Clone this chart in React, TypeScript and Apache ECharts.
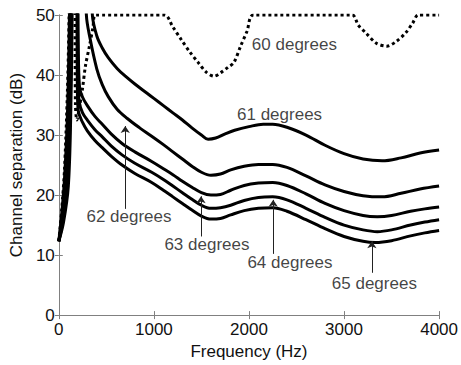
import React, { useEffect, useRef } from "react";
import * as echarts from "echarts";

const xTicks = [0, 1000, 2000, 3000, 4000];
const yTicks = [0, 10, 20, 30, 40, 50];

// [frequency Hz, channel separation dB]
const deg60: number[][] = [
  [0, 12.3], [30, 17.5], [59, 24], [90, 37], [108, 50], [115, 65], [160, 65], [175, 35], [190, 32.5],
  [215, 34.5], [249, 37.7], [280, 41.5], [322, 44.8], [360, 48], [385, 50], [1112, 50], [1200, 48],
  [1288, 45.9], [1380, 43.8], [1465, 42.1], [1550, 40.5], [1634, 39.8], [1704, 40.4], [1780, 41.3],
  [1842, 42.1], [1912, 44.8], [1980, 47.3], [2047, 50], [3086, 50], [3150, 48.3], [3231, 47],
  [3340, 45.3], [3450, 44.8], [3550, 45.6], [3647, 47], [3720, 48.6], [3782, 50], [4000, 50],
];
const deg61: number[][] = [
  [0, 12.3], [30, 16.8], [59, 22.5], [90, 33], [112, 50], [125, 70], [320, 70], [353, 50], [400, 46.5],
  [457, 44.5], [520, 42.9], [613, 41.1], [700, 39.8], [800, 38.5], [925, 37], [1000, 36.1], [1100, 34.9],
  [1200, 33.7], [1300, 32.5], [1400, 31.2], [1500, 30], [1570, 29.3], [1650, 29.5], [1750, 30.2],
  [1850, 30.8], [2000, 31.4], [2150, 31.8], [2250, 31.8], [2400, 31.3], [2600, 30], [2800, 28.3],
  [3000, 26.9], [3200, 26], [3400, 25.7], [3600, 26.2], [3800, 27], [4000, 27.5],
];
const deg62: number[][] = [
  [0, 12.3], [35, 16.5], [70, 22], [100, 32], [118, 50], [128, 70], [260, 70], [290, 50], [330, 46],
  [400, 41], [457, 38.4], [520, 36.4], [613, 34.3], [717, 32.8], [850, 31.2], [977, 29.8], [1100, 28.4],
  [1200, 27.2], [1300, 26], [1400, 24.8], [1500, 23.8], [1600, 23.3], [1700, 23.5], [1808, 24.2],
  [1950, 24.8], [2100, 25.1], [2250, 25.1], [2400, 24.6], [2600, 23.2], [2800, 21.7], [3000, 20.6],
  [3200, 19.9], [3400, 19.7], [3600, 20.3], [3800, 21], [4000, 21.5],
];
const deg63: number[][] = [
  [0, 12.3], [40, 16], [80, 22.5], [110, 33], [125, 50], [135, 70], [190, 70], [205, 45], [218, 38],
  [250, 36.3], [300, 34.9], [380, 33.1], [457, 31.8], [550, 30.2], [665, 28.6], [800, 27.2], [977, 25.6],
  [1100, 24.4], [1200, 23.4], [1300, 22.3], [1400, 21.3], [1500, 20.4], [1600, 20], [1700, 20.1],
  [1808, 20.8], [1950, 21.6], [2100, 22], [2250, 22.1], [2400, 21.6], [2600, 20.2], [2800, 18.6],
  [3000, 17.4], [3200, 16.6], [3350, 16.4], [3500, 16.6], [3700, 17.3], [3850, 17.7], [4000, 18],
];
const deg64: number[][] = [
  [0, 12.3], [45, 15.8], [90, 22], [118, 33], [132, 50], [140, 70], [185, 70], [200, 40], [215, 35.5],
  [250, 33.7], [300, 32.5], [380, 30.9], [457, 29.7], [550, 28.2], [665, 26.7], [800, 25.3], [977, 23.8],
  [1100, 22.6], [1200, 21.5], [1300, 20.4], [1400, 19.3], [1500, 18.3], [1600, 17.8], [1700, 17.9],
  [1808, 18.3], [1950, 19.1], [2100, 19.6], [2250, 19.7], [2400, 19.2], [2600, 17.8], [2800, 16.3],
  [3000, 15], [3200, 14.2], [3350, 13.9], [3500, 14.2], [3700, 15], [3850, 15.5], [4000, 15.9],
];
const deg65: number[][] = [
  [0, 12.3], [50, 15.5], [100, 21.5], [125, 33], [140, 50], [148, 70], [180, 70], [195, 38], [205, 34],
  [250, 32.1], [300, 30.7], [380, 29.1], [457, 27.9], [550, 26.5], [665, 25], [800, 23.6], [977, 22.1],
  [1100, 20.8], [1200, 19.7], [1300, 18.6], [1400, 17.5], [1500, 16.5], [1600, 16], [1700, 16.1],
  [1808, 16.7], [1950, 17.4], [2100, 17.8], [2250, 17.9], [2400, 17.3], [2600, 15.9], [2800, 14.4],
  [3000, 13.1], [3200, 12.3], [3330, 12.1], [3500, 12.4], [3700, 13.2], [3850, 13.7], [4000, 14.1],
];

const labelTexts = ["60 degrees", "61 degrees", "62 degrees", "63 degrees", "64 degrees", "65 degrees"];
const labelFreq = [2478, 2322, 738, 1558, 2431, 3319];
const labelDb = [45.1, 33.4, 16.4, 11.8, 8.7, 5.2];

// arrows: [freq, fromDb, toDb]
const arrowFreq = [699, 1496, 2255, 3293];
const arrowFrom = [17.7, 13.1, 10.2, 7.05];
const arrowTo = [31.5, 19.8, 19.2, 12.3];

const FONT = "'Liberation Sans', Arial, sans-serif";
const AXIS_GREY = "#808080";
const TEXT = "#111";

export default function App() {
  const ref = useRef<HTMLDivElement>(null);
  useEffect(() => {
    document.body.style.margin = "0";
    if (!ref.current) return;
    const chart = echarts.init(ref.current, undefined, { renderer: "svg" });
    const solid = (data: number[][]) => ({
      type: "line",
      data,
      showSymbol: false,
      smooth: 0.35,
      clip: true,
      lineStyle: { color: "#000", width: 3 },
      xAxisIndex: 0,
      yAxisIndex: 0,
      z: 3,
    });
    const hidden = { show: false };
    chart.setOption({
      animation: false,
      backgroundColor: "#fff",
      grid: { left: 56, right: 20, top: 15, bottom: 45 },
      xAxis: [
        {
          type: "value",
          min: 0,
          max: 4000,
          interval: 1000,
          name: "Frequency (Hz)",
          nameLocation: "middle",
          nameGap: 24,
          nameTextStyle: { fontFamily: FONT, fontSize: 17, color: TEXT },
          axisLine: { show: true, lineStyle: { color: AXIS_GREY, width: 1 } },
          axisTick: { show: true, inside: true, length: 4, lineStyle: { color: AXIS_GREY } },
          axisLabel: {
            fontFamily: FONT,
            fontSize: 17,
            color: TEXT,
            margin: 6,
            formatter: (v: number) => (xTicks.includes(v) ? String(v) : ""),
          },
          splitLine: hidden,
        },
        {
          type: "value",
          position: "top",
          min: 0,
          max: 4000,
          interval: 1000,
          axisLine: { show: true, lineStyle: { color: AXIS_GREY, width: 1 } },
          axisTick: { show: true, inside: true, length: 4, lineStyle: { color: AXIS_GREY } },
          axisLabel: hidden,
          splitLine: hidden,
        },
      ],
      yAxis: [
        {
          type: "value",
          min: 0,
          max: 50,
          interval: 10,
          name: "Channel separation (dB)",
          nameLocation: "middle",
          nameGap: 30,
          nameRotate: 90,
          nameTextStyle: { fontFamily: FONT, fontSize: 17, color: TEXT },
          axisLine: { show: true, lineStyle: { color: AXIS_GREY, width: 1 } },
          axisTick: { show: true, inside: true, length: 4, lineStyle: { color: AXIS_GREY } },
          axisLabel: {
            fontFamily: FONT,
            fontSize: 17,
            color: TEXT,
            margin: 4,
            formatter: (v: number) => (yTicks.includes(v) ? String(v) : ""),
          },
          splitLine: hidden,
        },
        {
          type: "value",
          position: "right",
          min: 0,
          max: 50,
          interval: 10,
          axisLine: { show: true, lineStyle: { color: AXIS_GREY, width: 1 } },
          axisTick: { show: true, inside: true, length: 4, lineStyle: { color: AXIS_GREY } },
          axisLabel: hidden,
          splitLine: hidden,
        },
      ],
      series: [
        {
          type: "line",
          data: deg60,
          showSymbol: false,
          smooth: 0.3,
          clip: true,
          lineStyle: { color: "#000", width: 3, type: [3, 3] },
          z: 2,
        },
        solid(deg61),
        solid(deg62),
        solid(deg63),
        solid(deg64),
        solid(deg65),
        {
          type: "scatter",
          symbolSize: 0,
          silent: true,
          data: labelTexts.map((t, i) => ({ name: t, value: [labelFreq[i], labelDb[i]] })),
          label: {
            show: true,
            position: "inside",
            formatter: (p: any) => p.name,
            fontFamily: FONT,
            fontSize: 17,
            color: TEXT,
          },
          markLine: {
            silent: true,
            symbol: ["none", "arrow"],
            symbolSize: 7,
            label: { show: false },
            lineStyle: { color: "#222", width: 1, type: "solid" },
            data: arrowFreq.map((f, i) => [
              { coord: [f, arrowFrom[i]] },
              { coord: [f, arrowTo[i]] },
            ]),
          },
          z: 5,
        },
      ],
    });
    return () => chart.dispose();
  }, []);
  return <div ref={ref} style={{ width: 461, height: 365 }} />;
}
